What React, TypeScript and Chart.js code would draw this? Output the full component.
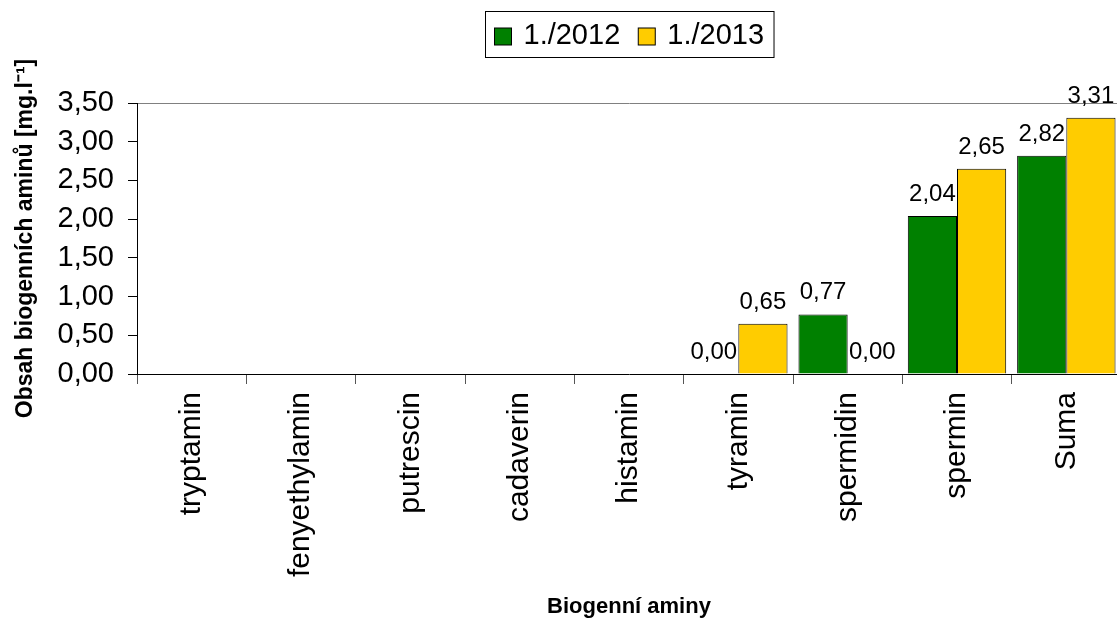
import React, { useEffect, useRef } from "react";
import { Chart, registerables } from "chart.js";

Chart.register(...registerables);

const categories = [
  "tryptamin",
  "fenyethylamin",
  "putrescin",
  "cadaverin",
  "histamin",
  "tyramin",
  "spermidin",
  "spermin",
  "Suma",
];
const series2012: (number | null)[] = [null, null, null, null, null, 0.0, 0.77, 2.04, 2.82];
const series2013: (number | null)[] = [null, null, null, null, null, 0.65, 0.0, 2.65, 3.31];
const seriesLabels = ["1./2012", "1./2013"];
const seriesColors = ["#008000", "#FFCC00"];
const yTicks = [0, 0.5, 1, 1.5, 2, 2.5, 3, 3.5];

const FONT = "'Liberation Sans', Arial, Helvetica, sans-serif";
const fmt = (v: number) => v.toFixed(2).replace(".", ",");

// The plot runs slightly past the visible right edge, so the canvas is a bit wider than its clipping box
const VIEW_W = 1117;
const CANVAS_W = 1121;
const CANVAS_H = 620;

// Value labels above each bar that has a value
const valueLabels = {
  id: "valueLabels",
  afterDatasetsDraw(chart: any) {
    const ctx = chart.ctx;
    ctx.save();
    ctx.font = `24px ${FONT}`;
    ctx.fillStyle = "#000";
    ctx.textAlign = "center";
    ctx.textBaseline = "alphabetic";
    chart.data.datasets.forEach((ds: any, di: number) => {
      const meta = chart.getDatasetMeta(di);
      meta.data.forEach((el: any, i: number) => {
        const v = ds.data[i];
        if (v === null || v === undefined) return;
        ctx.fillText(fmt(v), el.x, el.y - 15);
      });
    });
    ctx.restore();
  },
};

// Boxed legend centred over the plot area
const boxedLegend = {
  id: "boxedLegend",
  afterDraw(chart: any) {
    const ctx = chart.ctx;
    const area = chart.chartArea;
    ctx.save();
    ctx.font = `29px ${FONT}`;
    const sq = 17;
    const gapText = 12;
    const gapItem = 18;
    const padL = 9;
    const padR = 10;
    const items = chart.data.datasets.map((ds: any) => ({
      label: ds.label,
      color: ds.backgroundColor,
      w: ctx.measureText(ds.label).width,
    }));
    let total = padL + padR;
    items.forEach((it: any, i: number) => {
      total += sq + gapText + it.w + (i < items.length - 1 ? gapItem : 0);
    });
    const cx = (area.left + area.right) / 2;
    const left = Math.round(cx - total / 2) + 0.5;
    const top = 11.5;
    const h = 46;
    ctx.strokeStyle = "#000";
    ctx.lineWidth = 1;
    ctx.strokeRect(left, top, total, h);
    let x = left + padL;
    const midY = top + h / 2;
    items.forEach((it: any) => {
      ctx.fillStyle = it.color;
      ctx.fillRect(x, midY - sq / 2 + 2, sq, sq);
      ctx.strokeRect(x, midY - sq / 2 + 2, sq, sq);
      x += sq + gapText;
      ctx.fillStyle = "#000";
      ctx.textAlign = "left";
      ctx.textBaseline = "middle";
      ctx.fillText(it.label, x, midY + 1);
      x += it.w + gapItem;
    });
    ctx.restore();
  },
};

export default function App() {
  const ref = useRef<HTMLCanvasElement | null>(null);

  useEffect(() => {
    if (!ref.current) return;
    const chart = new Chart(ref.current, {
      type: "bar",
      data: {
        labels: categories,
        datasets: [
          {
            label: seriesLabels[0],
            data: series2012,
            backgroundColor: seriesColors[0],
            borderColor: "#000",
            borderWidth: 1,
            categoryPercentage: 0.9,
            barPercentage: 1.0,
          },
          {
            label: seriesLabels[1],
            data: series2013,
            backgroundColor: seriesColors[1],
            borderColor: "#000",
            borderWidth: 1,
            categoryPercentage: 0.9,
            barPercentage: 1.0,
          },
        ],
      },
      options: {
        responsive: false,
        animation: false,
        layout: { padding: { top: 103, left: 0, right: 0, bottom: 0 } },
        plugins: {
          legend: { display: false },
          tooltip: { enabled: false },
        },
        scales: {
          x: {
            afterFit: (scale: any) => {
              scale.height = 246;
            },
            grid: {
              offset: true,
              drawOnChartArea: false,
              drawTicks: true,
              tickLength: 10,
              tickColor: "#555",
            },
            border: { color: "#000", width: 1 },
            ticks: {
              color: "#000",
              font: { family: FONT, size: 30 },
              minRotation: 90,
              maxRotation: 90,
              padding: 8,
              autoSkip: false,
            },
            title: {
              display: true,
              text: "Biogenní aminy",
              color: "#000",
              font: { family: FONT, size: 22, weight: "bold" },
              padding: { top: 0, bottom: 0 },
            },
          },
          y: {
            min: 0,
            max: 3.5,
            afterFit: (scale: any) => {
              scale.width = 137;
            },
            afterBuildTicks: (scale: any) => {
              scale.ticks = yTicks.map((v) => ({ value: v }));
            },
            grid: {
              color: (c: any) => (c.tick && c.tick.value === 3.5 ? "#808080" : "rgba(0,0,0,0)"),
              tickColor: "#000",
              tickLength: 9,
              drawTicks: true,
            },
            border: { color: "#000", width: 1 },
            ticks: {
              color: "#000",
              font: { family: FONT, size: 29 },
              padding: 14,
              callback: (v: any) => fmt(Number(v)),
            },
            title: {
              display: true,
              text: "Obsah biogenních aminů [mg.l⁻¹]",
              color: "#000",
              font: { family: FONT, size: 23, weight: "bold" },
              padding: { top: 12, bottom: 0 },
            },
          },
        },
      },
      plugins: [valueLabels, boxedLegend],
    });
    return () => chart.destroy();
  }, []);

  return (
    <div
      style={{
        position: "absolute",
        left: 0,
        top: 0,
        width: VIEW_W,
        height: CANVAS_H,
        overflow: "hidden",
        background: "#fff",
      }}
    >
      <canvas ref={ref} width={CANVAS_W} height={CANVAS_H} style={{ display: "block" }} />
    </div>
  );
}
